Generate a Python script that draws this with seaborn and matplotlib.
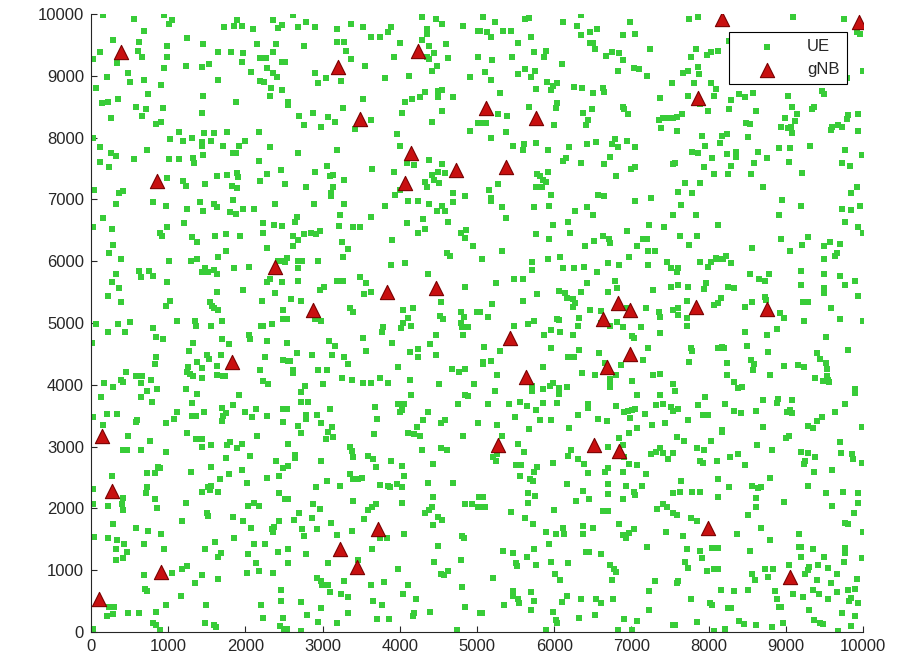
import pandas as pd
import matplotlib
matplotlib.use('Agg')
import matplotlib.pyplot as plt
import seaborn as sns

# UE positions (x, y), in three horizontal bands
ue_top = [
    (160,9984),(562,9914),(946,9984),(1045,9903),(1011,9833),(687,9731),(281,9580),(626,9553),(117,9380),(30,9273),
    (605,9407),(665,9310),(989,9483),(989,9310),(333,9203),(946,9133),(1248,9607),(1447,9510),(1231,9160),(1434,9149),
    (1529,9186),(1650,9380),(1814,9380),(1974,9364),(1953,9230),(1728,9785),(1853,9812),(1896,9903),(1953,9812),(2095,9758),
    (2354,9903),(2428,9769),(2471,9822),(2156,9510),(2354,9380),(2393,9510),(2190,9283),(2268,9283),(2471,9230),(2277,9133),
    (2074,9057),(2354,9041),(2406,8987),(2190,8922),(2242,8906),(2333,8809),(2471,8771),(2320,8680),(1650,8933),(1447,8680),
    (1434,8405),(1875,8583),(484,9041),(505,8906),(203,8976),(60,8809),(687,8933),(907,8852),(743,8701),(138,8556),
    (225,8583),(346,8620),(583,8502),(708,8459),(665,8351),(929,8475),(259,8324),(842,8222),(907,8249),(30,8001),
    (1024,7979),(1145,8098),(1188,7947),(1305,8001),(1469,8071),(1594,8071),(1758,8098),(1434,7925),(1434,7866),(1551,7947),
    (1715,7871),(1918,7871),(1996,7952),(2177,8098),(2320,7855),(117,7855),(259,7747),(320,7704),(721,7801),(117,7602),
    (238,7532),(562,7650),(1011,7650),(1145,7650),(1326,7666),(1335,7586),(1447,7720),(1836,7747),(1879,7747),(2177,7623),
    (2458,7478),(2277,7408),(2190,7300),(1629,7381),(1758,7397),(1888,7424),(1909,7370),(1823,7219),(1888,7192),(1477,7251),
    (1188,7300),(1231,7219),(989,7354),(363,7111),(410,7138),(39,7154),(320,6923),(808,6950),(972,6896),(1248,6842),
    (1413,6950),(1456,6820),(1594,6928),(1637,6869),(1845,6993),(1801,6788),(1875,6766),(1974,6842),(2117,6842),(2385,6928),
    (160,6696),
    (2621,9984),(2781,9876),(2677,9785),(2902,9785),(3183,9758),(3364,9833),(3528,9785),(3628,9634),(3744,9634),(3844,9715),
    (3887,9785),(4284,9957),(4470,9914),(4552,9833),(4349,9758),(4349,9677),(4816,9812),(5019,9731),(2759,9488),(3183,9553),
    (3282,9553),(3304,9407),(3368,9273),(4003,9537),(4284,9580),(4384,9488),(4448,9364),(4595,9510),(3930,9310),(4349,9310),
    (4379,9267),(4630,9283),(5010,9310),(2513,9230),(3550,9160),(4479,9160),(4414,9079),(2902,9041),(3044,8960),(2936,8879),
    (3239,8922),(3809,8960),(4124,9003),(4911,8987),(4492,8761),(4543,8771),(4327,8734),(4262,8653),(4155,8620),(4068,8583),
    (4492,8653),(4695,8653),(3528,8626),(2556,8583),(2556,8529),(3260,8475),(4025,8405),(4552,8432),(2694,8351),(2880,8405),
    (3075,8329),(3161,8249),(2759,8205),(2980,8179),(3628,8286),(3420,8135),(4414,8249),(4911,8108),(5019,8232),(3969,8055),
    (4003,7871),(2677,7747),(3183,7801),(4384,7639),(4090,7596),(4189,7559),(4543,7569),(3062,7548),(3645,7494),(2902,7451),
    (3139,7397),(3096,7381),(3282,7316),(3930,7451),(4492,7451),(4414,7397),(4587,7424),(4448,7316),(4509,7273),(2513,7251),
    (2781,7197),(3139,7208),(3105,7101),(3105,7057),(4327,7278),(4349,7208),(4695,7101),(4846,7047),(4003,7154),(3939,7074),
    (4111,6966),(4232,6977),(4384,6928),(4543,6885),(4695,6950),(2893,6928),(3282,6928),(3809,6896),(4587,6804),(4479,6815),
    (3226,6750),(2664,6712),(3628,6707),(4306,6680),
    (5074,9957),(5233,9876),(5622,9914),(5678,9930),(6119,9876),(6344,9984),(6300,9812),(6465,9715),(6560,9758),(6344,9661),
    (6983,9876),(6888,9661),(7048,9677),(5039,9731),(5134,9715),(5177,9634),(5333,9731),(5436,9731),(5700,9634),(5536,9537),
    (6465,9537),(6508,9526),(6529,9429),(6668,9327),(6745,9380),(6845,9364),(6888,9257),(7242,9429),(5739,9380),(5894,9407),
    (5873,9310),(5458,9310),(5190,9257),(6097,9186),(5104,9068),(5622,9106),(5536,9030),(5700,8976),(5752,9084),(5177,8933),
    (6832,9079),(7035,9133),(7104,9106),(7199,9003),(7523,8890),(5903,8906),(6033,8879),(5989,8836),(5959,8771),(6262,8825),
    (6357,8798),(6508,8728),(6629,8798),(6646,8744),(5760,8782),(5298,8728),(7372,8647),(6033,8556),(6024,8475),(5678,8502),
    (6888,8502),(6905,8459),(6961,8378),(6486,8459),(6378,8405),(6443,8286),(6413,8205),(5277,8378),(5393,8351),(5082,8232),
    (5117,8232),(5998,8205),(7359,8286),(7406,8313),(7458,8313),(7545,8313),(7385,8152),(5376,8098),(5177,8001),(5471,7871),
    (5614,7898),(5592,7801),(5760,7920),(5925,7801),(6197,7855),(6421,7898),(6542,7925),(6789,7979),(6745,7898),(6823,7855),
    (6948,7947),(7048,7855),(6724,7693),(6154,7677),(6119,7613),(6344,7596),(6646,7575),(7545,7575),(6992,7488),(7048,7532),
    (6802,7381),(5773,7408),(5817,7381),(5860,7316),(5925,7440),(5890,7278),(5760,7197),(5838,7197),(5277,7251),(5160,7144),
    (5177,7020),(5177,6966),(5955,7074),(6573,7074),(6646,7047),(7048,6966),(7251,7020),(5320,6869),(5739,6869),(5938,6896),
    (6270,6820),(6421,6869),(6508,6750),(5376,6696),(7536,6750),
    (7751,9914),(7859,9957),(9099,9957),(9760,9914),(9919,9715),(9963,9677),(7772,9310),(7833,9429),(7975,9337),(8032,9391),
    (8127,9407),(8265,9569),(7673,9041),(7729,9084),(7859,9138),(7876,9030),(9995,9079),(7816,8879),(8032,8890),(8092,8782),
    (8075,8674),(7738,8674),(7889,8545),(8291,8610),(8399,8701),(8472,8653),(8580,8728),(9034,8674),(9077,8502),(9474,8755),
    (9500,8701),(9790,8960),(8269,8459),(7997,8432),(8615,8432),(7651,8378),(7587,8329),(9336,8464),(9371,8491),(9811,8367),
    (9941,8378),(9790,8297),(8991,8324),(9142,8378),(9120,8276),(8939,8179),(9025,8152),(9068,8179),(9086,8082),(9595,8179),
    (9682,8205),(9725,8179),(9587,8125),(9932,8108),(7587,8108),(8485,8232),(8537,8222),(7911,8028),(8170,8028),(8235,8055),
    (8515,8006),(8148,7920),(7954,7871),(7790,7774),(7859,7747),(8235,7731),(8356,7774),(8645,7774),(8753,7677),(8917,7839),
    (9055,7839),(9315,7871),(9768,7801),(9984,7720),(8049,7677),(8351,7683),(8291,7543),(7945,7532),(8593,7596),(9042,7602),
    (9725,7596),(9833,7543),(7565,7586),(8075,7408),(8256,7408),(8550,7408),(9215,7424),(7695,7273),(7889,7273),(7608,7127),
    (7790,7101),(8710,7197),(9928,7208),(9846,7101),(8956,6993),(7643,6901),(7833,6750),(9198,6896),(9725,6842),(9846,6831),
    (9963,6885),(8913,6750),
]

ue_mid = [
    (30,6548),(268,6516),(981,6548),(1210,6613),(894,6451),(916,6408),(1305,6387),(1369,6317),(1607,6414),(1750,6441),
    (1931,6414),(2233,6462),(2376,6586),(2471,6570),(2225,6624),(281,6263),(238,6139),(384,6031),(1011,6009),(1292,6009),
    (1369,6036),(1642,6063),(1750,6166),(2277,6209),(626,5842),(756,5842),(644,5740),(808,5767),(324,5794),(1477,5885),
    (1434,5821),(1512,5821),(1594,5859),(1629,5794),(1853,5885),(2052,5912),(2428,6009),(2493,6009),(2471,5670),(2320,5708),
    (2277,5659),(268,5670),(367,5562),(989,5659),(1629,5508),(1974,5535),(225,5438),(389,5336),(972,5276),(1024,5357),
    (1542,5346),(1564,5276),(1594,5249),(1642,5212),(2212,5357),(2385,5492),(2493,5212),(60,4985),(225,4861),(346,4985),
    (441,4861),(505,5012),(1110,5039),(1348,5039),(1356,4953),(1551,4953),(1693,5039),(2199,4953),(2233,4953),(2341,4985),
    (2493,5066),(808,4915),(842,4780),(929,4737),(9,4683),(1326,4683),(1702,4737),(1793,4657),(2052,4807),(2061,4737),
    (2277,4710),(1274,4554),(1378,4376),(1499,4484),(1534,4414),(1443,4279),(1680,4484),(1629,4306),(842,4457),(829,4333),
    (1261,4295),(1240,4214),(1283,4171),(1326,4150),(1434,4107),(1629,4161),(1706,4134),(1737,4134),(2190,4241),(2255,4457),
    (2484,4403),(454,4204),(389,4080),(419,4042),(583,4134),(665,4134),(773,4080),(644,4026),(168,4026),(289,3956),
    (125,3810),(730,3902),(851,3929),(644,3810),(786,3729),(1231,3929),(1369,3853),(1305,3702),(1918,3837),(1836,3676),
    (2233,4064),(2298,4009),(2493,3605),(1996,3552),(2082,3471),(2138,3605),(2277,3487),(1750,3541),(1715,3487),(1693,3417),
    (1693,3622),(1110,3552),(1080,3449),(972,3379),(1469,3552),(1305,3487),(1361,3487),(592,3433),(583,3390),(30,3476),
    (203,3530),(333,3530),(160,3352),(2484,3390),
    (2643,6640),(3217,6570),(3399,6548),(3485,6548),(4090,6613),(4232,6462),(4327,6516),(4630,6640),(4794,6462),(4859,6505),
    (2621,6414),(2686,6344),(2764,6441),(2850,6462),(2910,6441),(2967,6495),(3247,6317),(3325,6193),(3895,6344),(4846,6371),
    (4954,6247),(2621,6247),(2535,6058),(2513,5993),(2677,6009),(2729,6009),(2936,6009),(3260,6063),(4608,6139),(4651,6090),
    (3887,5939),(4068,5966),(2677,5885),(4371,5794),(2677,5686),(3183,5686),(3269,5686),(3485,5740),(3563,5643),(3628,5508),
    (3541,5465),(2967,5535),(3023,5589),(2591,5390),(2720,5363),(4535,5336),(4846,5589),(4997,5185),(3355,5239),(3390,5185),
    (4047,5212),(4168,5239),(2535,5061),(2902,5066),(2980,5034),(4103,5088),(4047,5007),(4016,4915),(4146,4953),(3779,4931),
    (3766,4861),(4522,5115),(4556,5061),(4790,5185),(4833,5104),(4803,4931),(4880,4942),(4790,4996),(4816,4807),(4470,4807),
    (3528,4764),(3904,4683),(3083,4710),(3161,4635),(2535,4683),(3563,4554),(2859,4484),(3118,4484),(3282,4457),(3334,4333),
    (4133,4527),(4241,4581),(4232,4457),(4392,4657),(4470,4484),(2664,4511),(2548,4392),(2578,4392),(2621,4241),(2621,4198),
    (2936,4231),(3053,4231),(3973,4285),(4673,4252),(4768,4204),(4846,4258),(3247,4107),(3377,4080),(3520,4026),(3628,4026),
    (3744,4107),(3852,4026),(4133,4080),(2772,3983),(3001,4010),(4509,4010),(4967,4010),(2720,3880),(4146,3837),(4846,3837),
    (4880,3821),(2720,3729),(2815,3729),(2535,3605),(2781,3514),(2781,3444),(2923,3514),(2980,3379),(2677,3325),(3118,3314),
    (3096,3605),(3679,3648),(3701,3449),(3982,3686),(4060,3686),(4025,3584),(4003,3552),(4371,3552),(4306,3433),(4219,3314),
    (4751,3686),(4535,3379),(4587,3433),(5010,3379),
    (5981,6586),(6184,6640),(6205,6462),(5765,6441),(5938,6360),(5061,6036),(5320,6166),(5717,5982),(5717,5859),(5916,6036),
    (6076,6063),(6119,5885),(6262,5885),(6387,5912),(6400,6247),(6521,6333),(6629,6414),(6715,6360),(6724,6290),(6940,6495),
    (7069,6247),(7156,6360),(7199,6360),(7221,6166),(7307,6166),(7229,6586),(7428,6559),(7467,5982),(7510,5885),(7212,5939),
    (6974,6063),(6702,5966),(6845,5939),(6560,5832),(6789,5681),(6819,5562),(6702,5508),(6421,5643),(6344,5497),(6063,5519),
    (6141,5492),(6171,5400),(6249,5390),(6270,5319),(6240,5255),(5242,5643),(5480,5708),(5592,5708),(5773,5465),(5592,5363),
    (5199,5309),(5147,5104),(5039,5185),(6465,5212),(6603,5195),(6940,5239),(7186,5239),(7285,5535),(7359,5185),(7372,5104),
    (7510,5589),(7545,5212),(7126,4931),(7372,4834),(6041,5061),(6067,5050),(5739,5039),(5657,4985),(6322,5088),(6305,4953),
    (5959,4888),(6076,4861),(5873,4807),(6240,4807),(5484,4958),(6819,5012),(6888,4931),(6724,4953),(6603,4996),(7005,4791),
    (7035,4753),(5091,4608),(5298,4554),(5959,4592),(6326,4565),(6184,4457),(6262,4457),(6586,4511),(7221,4592),(7156,4403),
    (5082,4376),(5177,4387),(5074,4339),(5860,4285),(6659,4349),(6862,4312),(5255,4161),(6357,4198),(6529,4161),(6802,4161),
    (6724,4091),(6724,4026),(6724,3956),(7013,4053),(7285,4161),(7372,4177),(7536,4010),(5981,4026),(5946,3983),(5709,3983),
    (5709,3907),(5860,3929),(6063,3945),(6063,3853),(6162,3956),(5233,3902),(7069,3837),(7372,3837),(5147,3692),(5419,3686),
    (5557,3729),(5644,3659),(5860,3702),(6041,3702),(5765,3595),(6443,3686),(6443,3632),(6802,3659),(6905,3557),(6961,3579),
    (7005,3595),(7048,3611),(7316,3675),(7406,3686),(7510,3638),(7545,3568),(5493,3476),(5817,3433),(5959,3433),(6313,3503),
    (6573,3449),(6681,3406),(7177,3524),(6983,3460),(7264,3352),(7437,3379),(7078,3298),(6197,3298),(5678,3282),(5255,3352),
    (8127,6586),(7630,6414),(7846,6414),(7751,6263),(8567,6220),(8939,6360),(9055,6166),(9215,6263),(9284,6398),(9500,6247),
    (9574,6317),(9703,6279),(9768,6640),(9941,6559),(9995,6462),(9669,6139),(9639,6090),(9500,6036),(7889,5993),(7988,5912),
    (8032,5982),(8096,6058),(8114,6031),(8183,6036),(8222,6090),(8291,5966),(7608,5885),(7587,5832),(9198,5842),(9500,5794),
    (9703,5761),(9898,5686),(9768,5616),(8537,5794),(8658,5708),(8731,5686),(8783,5788),(7608,5616),(7729,5589),(7945,5546),
    (7967,5643),(8248,5589),(8334,5562),(9198,5616),(9500,5562),(9500,5492),(9941,5438),(7716,5363),(8075,5293),(8127,5319),
    (8157,5411),(8472,5255),(8559,5346),(8731,5417),(8740,5373),(9228,5346),(9284,5336),(9587,5239),(9995,5039),(9703,5061),
    (9241,5039),(8926,5158),(8982,5088),(8883,4904),(8753,4807),(8472,4861),(7600,5239),(7608,5131),(7716,5088),(7716,4953),
    (9522,4780),(9803,4565),(7772,4592),(7790,4554),(8127,4592),(8170,4608),(8204,4603),(8494,4635),(8775,4527),(7751,4376),
    (8235,4349),(8550,4403),(8593,4333),(8572,4231),(8235,4161),(8796,4161),(8982,4306),(9163,4312),(9241,4285),(9401,4511),
    (9444,4414),(9518,4349),(9531,4258),(9531,4134),(9552,4080),(9561,4037),(9487,4053),(9379,4107),(8334,4037),(8386,3945),
    (8429,3956),(9898,3929),(9898,3864),(7565,3902),(7954,3810),(7867,3676),(8213,3686),(8710,3756),(8883,3702),(8904,3773),
    (9077,3756),(9768,3686),(7932,3503),(7988,3503),(7608,3605),(8334,3579),(8416,3541),(8615,3579),(9012,3552),(9055,3595),
    (9086,3541),(9639,3557),(9466,3476),(9401,3406),(9293,3336),(9358,3298),(7738,3433),(8710,3314),(9993,3314),(8170,3271),
]

ue_low = [
    (484,3172),(765,3097),(419,2946),(471,2946),(644,2946),(972,2919),(1248,3226),(1361,3123),(1434,3123),(1434,2999),
    (1551,3026),(1758,3026),(1801,3070),(1953,3043),(1888,2973),(2156,3172),(1750,2822),(2061,2849),(2398,2768),(2493,2660),
    (268,2525),(721,2568),(829,2579),(873,2676),(894,2649),(1292,2595),(1551,2676),(1672,2471),(1793,2552),(1953,2622),
    (2017,2417),(2277,2498),(2441,2525),(22,2310),(721,2342),(713,2245),(829,2148),(851,2013),(419,2164),(397,2072),
    (419,1975),(225,2040),(30,2072),(1231,2094),(1434,2272),(1521,2342),(1551,2363),(1542,2299),(1650,2272),(2039,2040),
    (2112,2094),(2182,2040),(2441,2245),(2514,2148),(1508,1921),(1521,1878),(1836,1868),(1966,1798),(1175,1798),(2441,1798),
    (281,1744),(583,1690),(743,1641),(907,1587),(39,1544),(225,1517),(341,1490),(428,1420),(324,1345),(462,1291),
    (687,1420),(946,1345),(1477,1345),(1607,1463),(1853,1517),(2074,1690),(2341,1663),(2372,1695),(2354,1625),(2112,1420),
    (2255,1420),(2419,1291),(324,1167),(410,1194),(1680,1285),(1650,1221),(2030,1264),(2138,1113),(2182,989),(2017,962),
    (2354,962),(1045,962),(1175,1016),(1248,1070),(1434,914),(1650,860),(1348,790),(687,914),(700,698),(721,671),
    (1166,590),(2458,682),(2458,509),(238,412),(298,412),(972,439),(1490,439),(2199,439),(203,261),(281,288),
    (484,315),(626,315),(842,331),(2233,234),(2484,234),(808,143),(842,116),(894,35),(1477,143),(1594,105),
    (1620,78),(2449,89),(2501,51),(22,46),
    (2720,3215),(3075,3242),(3040,3123),(3139,3150),(3671,3199),(4111,3226),(4189,3199),(4263,3172),(4816,3172),(2556,3043),
    (2643,2865),(2643,2811),(2980,2768),(2556,2687),(3355,2999),(3377,2935),(3390,2827),(3584,2849),(3658,2795),(3688,2676),
    (3887,2768),(4034,2687),(4284,2946),(4535,2973),(4608,2946),(4427,2719),(3355,2552),(3399,2471),(3455,2471),(3507,2498),
    (3062,2444),(2915,2342),(3226,2369),(3744,2380),(3852,2363),(3874,2342),(3969,2396),(4025,2342),(4060,2525),(4371,2417),
    (4695,2417),(2548,2148),(2880,2067),(2967,1992),(3390,2121),(4025,2094),(2694,1921),(2634,1814),(2859,1841),(2738,1663),
    (2759,1555),(2923,1668),(3109,1771),(3541,1824),(3593,1975),(3636,2018),(3688,2072),(4427,2191),(4414,2029),(4379,1975),
    (4327,1921),(4492,1857),(4552,1814),(4427,1733),(4846,2072),(4932,2072),(5010,2018),(5032,2191),(3183,1571),(3377,1641),
    (3744,1517),(3831,1517),(4060,1587),(2556,1345),(2781,1264),(3645,1345),(2556,1113),(3075,1113),(3455,1167),(3982,1016),
    (4448,1140),(4492,1393),(4803,1555),(4833,1517),(4790,1167),(4535,941),(4578,914),(4621,989),(2923,870),(2980,817),
    (2997,763),(3075,763),(3282,817),(3628,763),(3800,806),(4103,763),(3096,639),(3239,612),(3334,563),(4047,612),
    (4206,536),(4811,720),(2720,482),(2980,385),(3658,509),(3766,439),(4392,331),(4189,315),(4176,261),(4846,412),
    (2794,267),(3325,315),(2936,159),(3183,143),(3701,207),(3865,207),(2535,51),(2720,10),(4738,35),(5040,305),
    (5320,3172),(5536,3043),(5614,2919),(5203,2827),(5242,2768),(5264,2881),(5506,2703),(5566,2703),(5557,2525),(5687,2471),
    (5730,2444),(5743,2595),(5782,2665),(5981,2730),(6214,2946),(6184,2849),(6313,2795),(6387,2719),(6443,2568),(6659,2595),
    (6702,2649),(6702,2999),(6845,3134),(6974,3226),(6888,3026),(6905,2827),(6974,2719),(7069,2703),(6888,2595),(7190,2552),
    (7251,2881),(7316,2919),(7372,2973),(7415,2902),(7480,2800),(7545,2902),(6931,2369),(7035,2272),(7048,2218),(7134,2369),
    (6162,2396),(6378,2288),(6456,2148),(6283,2121),(6702,2396),(6702,2229),(6888,2148),(5657,2245),(5752,2202),(5665,2094),
    (5074,2191),(5074,2018),(5104,2018),(5436,1948),(5998,1975),(6629,1965),(6702,1965),(7337,1992),(7406,2072),(7458,2029),
    (7545,2256),(7536,1932),(5622,1841),(5722,1744),(5894,1625),(6024,1587),(6119,1690),(6128,1587),(6378,1717),(6508,1690),
    (6378,1587),(6845,1744),(6888,1571),(6931,1517),(6974,1598),(7035,1668),(7450,1614),(5938,1420),(7208,1372),(5333,1318),
    (5471,1285),(5644,1221),(5739,1345),(5506,1124),(5523,1070),(5765,1086),(5959,1140),(6184,1113),(6413,1291),(6456,1291),
    (6603,1264),(6724,1086),(6780,1016),(6802,978),(6011,941),(6076,833),(6745,843),(7307,817),(5212,870),(5471,655),
    (5462,590),(5527,531),(5549,466),(5700,639),(5739,509),(5696,358),(5354,439),(5061,315),(6162,590),(6106,482),
    (6344,536),(6542,536),(6603,466),(6767,536),(7229,666),(7229,358),(5981,331),(6024,197),(6041,153),(6322,234),
    (6529,267),(6905,207),(7069,180),(5894,35),(6823,35),(7005,35),(7545,116),
    (7587,3161),(7686,3097),(8170,3242),(8032,3097),(7846,2973),(7945,2946),(7889,2768),(7932,2741),(8105,2773),(8278,2827),
    (8377,2876),(8472,2703),(8623,3026),(8818,2946),(8999,3134),(9042,3172),(9198,2919),(9293,2892),(9379,2827),(9250,2773),
    (9241,2714),(9371,2595),(9595,2622),(9703,3070),(9716,2892),(9855,2876),(9876,2795),(9984,2730),(8127,2471),(7643,2444),
    (7630,2272),(7790,2272),(7889,2272),(8127,2191),(8269,2342),(8559,2369),(8645,2326),(8680,2342),(8796,2498),(8610,2175),
    (8610,2018),(8515,1895),(8982,2099),(9284,2369),(9518,2245),(9747,2272),(9941,2245),(9941,2094),(9595,2040),(9885,1921),
    (9768,1771),(9811,1744),(9995,1614),(7587,1895),(7772,1841),(7846,1803),(7673,1560),(8364,1587),(8680,1690),(8796,1490),
    (9176,1587),(7716,1345),(7889,1318),(8040,1366),(8127,1366),(8537,1318),(9172,1372),(9198,1372),(9358,1345),(9198,1221),
    (9500,1221),(9768,1356),(9768,1285),(9760,1140),(9984,1194),(7695,1140),(7738,1043),(7911,1194),(7975,989),(8075,1016),
    (8127,1016),(8559,941),(8602,843),(8731,1016),(8839,1016),(8766,897),(9042,1086),(9302,1059),(9293,1005),(9423,1086),
    (9544,1043),(9250,941),(9401,843),(9587,790),(9660,935),(9919,860),(7587,790),(7608,817),(8161,682),(8334,655),
    (8515,682),(8861,671),(8883,536),(8913,412),(8939,396),(9099,612),(9228,563),(9358,682),(9431,612),(9544,536),
    (9660,639),(9811,682),(9898,693),(9820,509),(9846,547),(9941,466),(7772,531),(8019,466),(8049,439),(8256,385),
    (8291,385),(9302,358),(9725,315),(9898,261),(7846,159),(8399,170),(8459,127),(8615,116),(8818,78),(8969,143),
    (9371,186),(9444,153),(9487,132),(9846,89),(7565,116),(8075,19),(8213,51),(9682,10),
]

# gNB positions
gnb_x = [384, 851, 3196, 4232, 3485, 4146, 4729, 4068, 5112, 5760, 5376, 8170, 9954, 7867,
         2385, 1832, 2880, 3831, 4470, 5428, 6637, 6823, 6983, 6983, 6681, 5635, 7833, 8762,
         138, 268, 903, 104, 3226, 3442, 3723, 5277, 6521, 6845, 7988, 9055]
gnb_y = [9380, 7305, 9138, 9407, 8297, 7758, 7478, 7262, 8475, 8313, 7521, 9914, 9876, 8637,
         5912, 4376, 5212, 5508, 5573, 4753, 5061, 5330, 5212, 4495, 4295, 4123, 5266, 5223,
         3172, 2283, 978, 531, 1339, 1059, 1663, 3026, 3026, 2935, 1690, 897]

ue = pd.DataFrame(ue_top + ue_mid + ue_low, columns=['x', 'y'])
gnb = pd.DataFrame({'x': gnb_x, 'y': gnb_y})

sns.set_style('ticks')
plt.rcParams['font.family'] = ['Liberation Sans', 'DejaVu Sans']

fig = plt.figure(figsize=(9.17, 6.66), dpi=100)
ax = fig.add_axes([0.0992, 0.0511, 0.8419, 0.9279])

sns.scatterplot(data=ue, x='x', y='y', marker='s', s=16, color='#38cc38',
                linewidth=0, label='UE', ax=ax, zorder=2)
sns.scatterplot(data=gnb, x='x', y='y', marker='^', s=105, color='#c81010',
                edgecolor='#7a0000', linewidth=0.8, label='gNB', ax=ax, zorder=3)

ax.set_xlim(0, 10000)
ax.set_ylim(0, 10000)
ax.set_xticks(range(0, 10001, 1000))
ax.set_yticks(range(0, 10001, 1000))
ax.set_xlabel('')
ax.set_ylabel('')
ax.tick_params(direction='in', length=4.5, width=0.8, labelsize=12,
               colors='#262626', pad=5)
sns.despine(ax=ax)
for side in ['left', 'bottom']:
    ax.spines[side].set_color('#262626')
    ax.spines[side].set_linewidth(0.8)

leg = ax.legend(loc='upper right', bbox_to_anchor=(0.979, 0.971), fancybox=False,
                edgecolor='black', framealpha=1, fontsize=12, borderpad=0.45,
                handlelength=3.6, handletextpad=0.6, labelspacing=0.45,
                borderaxespad=0)
leg.get_frame().set_linewidth(0.8)

fig.savefig('out.png', dpi=100)
